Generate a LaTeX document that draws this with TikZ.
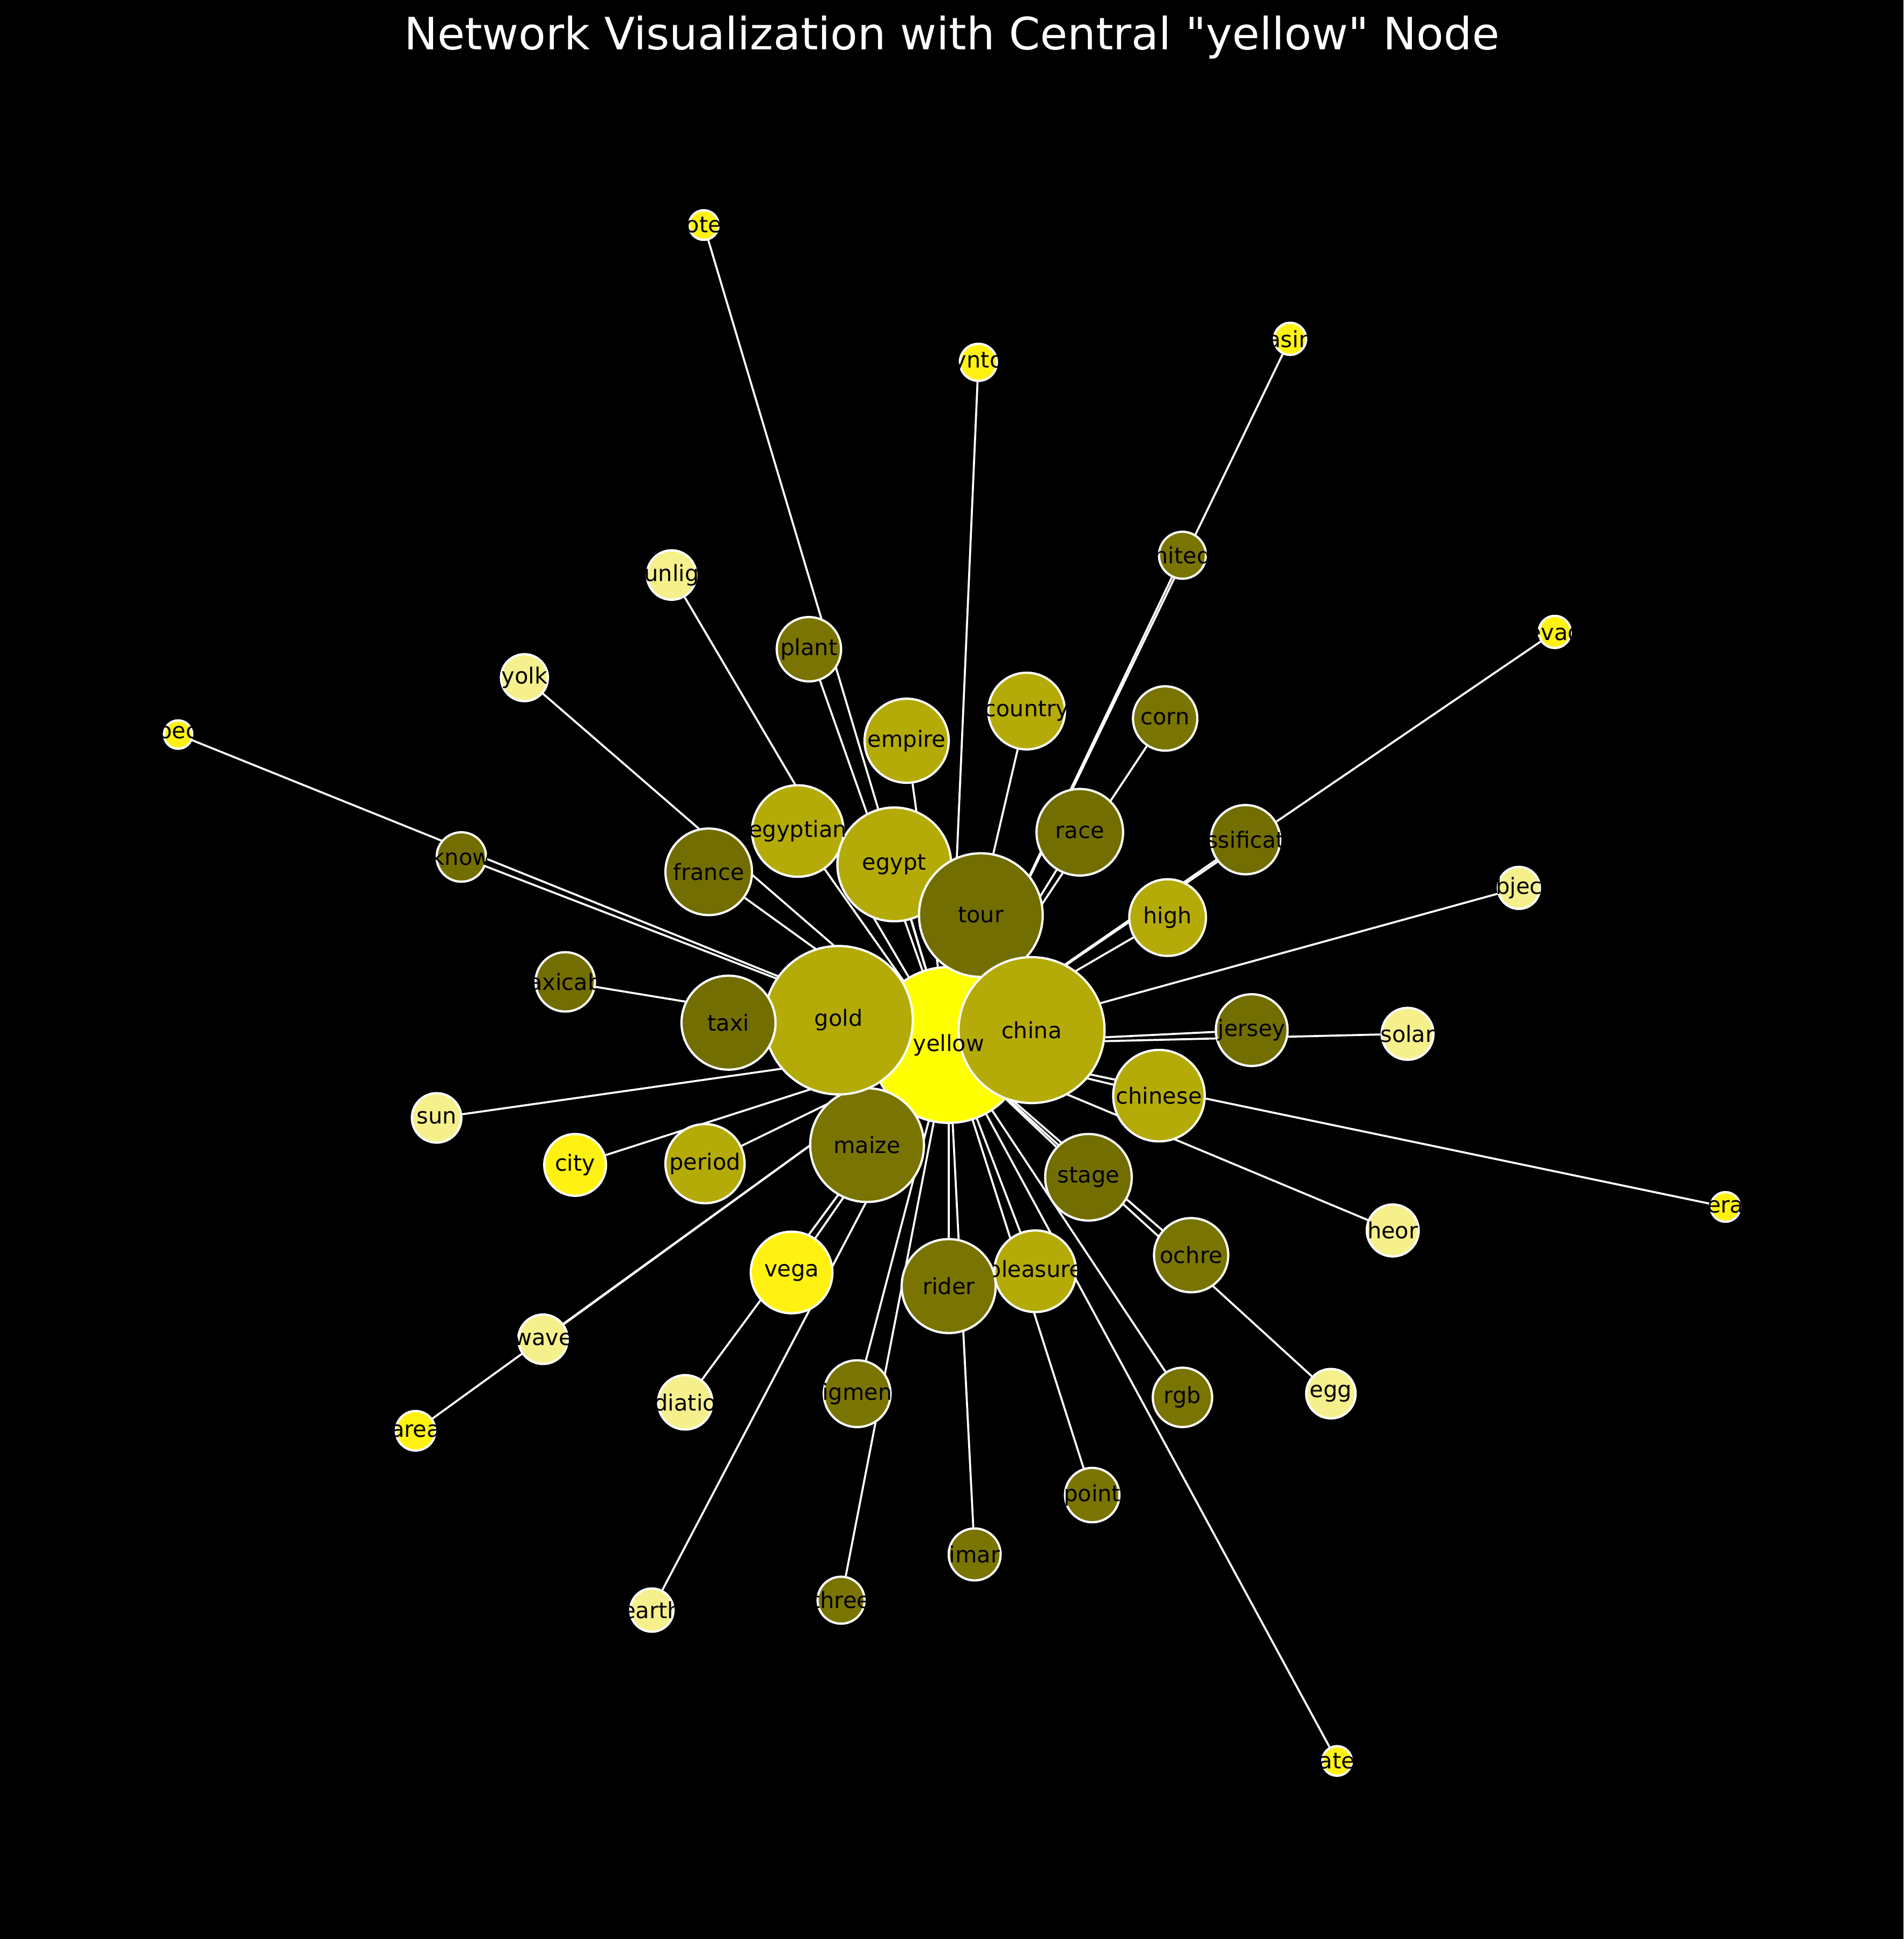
\documentclass[tikz,border=0pt]{standalone}
\usepackage{fontspec}
\setmainfont{DejaVu Sans}
\newfontfamily\titlefont{DejaVu Sans}
\pgfdeclarelayer{edges}
\pgfdeclarelayer{labels}
\pgfsetlayers{edges,main,labels}
\tikzset{
  word/.style={circle, draw=white, line width=1pt, inner sep=0pt, minimum size=#1*0.039cm},
  link/.style={white, line width=0.9pt},
  wordtext/.style={font=\fontsize{10}{12}\selectfont, text=black, inner sep=0pt},
}
\begin{document}
\begin{tikzpicture}[x=0.0195cm, y=-0.0195cm, line cap=round]
  \definecolor{pureyel}{HTML}{FFFF00}
  \definecolor{brightyel}{HTML}{FFF212}
  \definecolor{goldyel}{HTML}{B5AB08}
  \definecolor{darkolive}{HTML}{736E02}
  \definecolor{oliveyel}{HTML}{7A7403}
  \definecolor{paleyel}{HTML}{F5F08C}
  % black canvas
  \begin{pgfonlayer}{edges}
    \fill[black] (0,0) rectangle (1539,1568);
  \end{pgfonlayer}
  \node[white, font=\titlefont\fontsize{20}{24}\selectfont, anchor=base] (title) at (769.5,40) {Network Visualization with Central "yellow" Node};
  % central word
  \node[word=63, fill=pureyel] (yellow) at (767,845) {};
  \begin{pgfonlayer}{labels}
    \node[wordtext] at (yellow) {yellow};
  \end{pgfonlayer}
  % neighbours, each linked to the centre
  \foreach \n/\x/\y/\rad/\col/\txt in {
    maize/701/926/46/oliveyel/maize,
    gold/678/825/60/goldyel/gold,
    taxi/589/827/38/darkolive/taxi,
    egyptian/645/672/37/goldyel/egyptian,
    egypt/723/699/46/goldyel/egypt,
    tour/793/740/50/darkolive/tour,
    china/834/833/59/goldyel/china,
    chinese/937/886/37/goldyel/chinese,
    race/873/673/35/darkolive/race,
    france/573/705/35/darkolive/france,
    stage/880/952/35/darkolive/stage,
    high/944/742/31/goldyel/high,
    empire/733/599/34/goldyel/empire,
    country/830/575/31/goldyel/country,
    corn/942/581/26/oliveyel/corn,
    classification/1007/679/28/darkolive/ssificat,
    united/956/449/19/oliveyel/nited,
    casino/1043/274/13/brightyel/asin,
    downtown/791/293/15/brightyel/ynto,
    hotel/569/182/12/brightyel/ote,
    sunlight/543/465/20/paleyel/unlig,
    plant/654/525/26/oliveyel/plant,
    yolk/424/548/19/paleyel/yolk,
    spec/144/594/11.5/brightyel/pec,
    know/373/693/20/darkolive/know,
    taxicab/457/794/24/darkolive/axicab,
    sun/353/904/20/paleyel/sun,
    city/465/942/25/brightyel/city,
    period/570/941/32/goldyel/period,
    vega/640/1029/33/brightyel/vega,
    wave/439/1083/20/paleyel/wave,
    area/336/1157/16/brightyel/area,
    radiation/554/1134/22/paleyel/diatio,
    earth/527/1302/17.5/paleyel/earth,
    pigment/693/1127/27/oliveyel/igmen,
    three/680/1294/19/oliveyel/three,
    rider/767/1040/38/oliveyel/rider,
    primary/788/1257/21/oliveyel/imar,
    pleasure/837/1028/33/goldyel/pleasure,
    ochre/963/1015/30/oliveyel/ochre,
    rgb/956/1130/24/oliveyel/rgb,
    egg/1076/1127/20/paleyel/egg,
    point/883/1209/22/oliveyel/point,
    state/1081/1424/12/brightyel/ate,
    theory/1126/995/21/paleyel/heor,
    literature/1395/976/12/brightyel/era,
    solar/1138/836/21/paleyel/solar,
    jersey/1012/833/29/darkolive/jersey,
    object/1228/718/17/paleyel/bjec,
    nevada/1257/511/13/brightyel/evad%
  }{
    \node[word=\rad, fill=\col] (\n) at (\x,\y) {};
    \begin{pgfonlayer}{edges}
      \draw[link] (yellow) -- (\n);
    \end{pgfonlayer}
    \begin{pgfonlayer}{labels}
      \begin{scope}
        \clip ([yshift=-15pt]\n.west) rectangle ([yshift=15pt]\n.east);
        \node[wordtext] at (\n) {\txt};
      \end{scope}
    \end{pgfonlayer}
  }
\end{tikzpicture}
\end{document}
